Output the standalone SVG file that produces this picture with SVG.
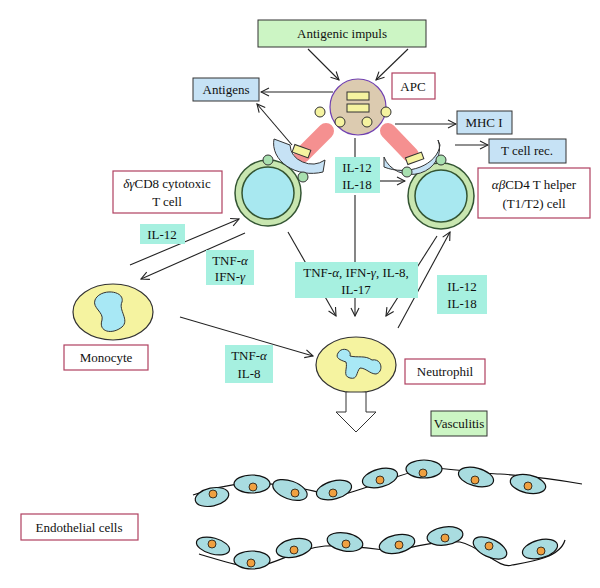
<svg xmlns="http://www.w3.org/2000/svg" width="600" height="588" viewBox="0 0 600 588">
<style>
text{font-family:"Liberation Serif",serif;font-size:13px;fill:#111;text-anchor:middle}
.lb{fill:#fff;stroke:#b04060;stroke-width:1.2}
.gb{fill:#ccf5c4;stroke:#333;stroke-width:1}
.bb{fill:#c6e2f5;stroke:#333;stroke-width:1}
.cy{fill:#a6f0e0}
.ln{stroke:#222;stroke-width:1.1;fill:none;marker-end:url(#a)}
.sm{fill:#f5f3a0;stroke:#333;stroke-width:1}
.ec{fill:#a9dce0;stroke:#111;stroke-width:1.2}
.nu{fill:#f0a040;stroke:#111;stroke-width:0.8}
.g{font-style:italic}
</style>
<defs>
<marker id="a" markerWidth="10" markerHeight="10" refX="9" refY="5" orient="auto" markerUnits="userSpaceOnUse"><path d="M1,1 L9,5 L1,9" fill="none" stroke="#222" stroke-width="1.1"/></marker>
<g id="tc"><circle r="33" fill="#c8e6b0" stroke="#335533" stroke-width="1.5"/><circle r="26" fill="#a8e8f0" stroke="#335533" stroke-width="1.5"/></g>
</defs>
<g id="connectors">
<path class="ln" d="M308,49 L339,80"/><path class="ln" d="M408,49 L376,80"/>
<path class="ln" d="M333,92 L261,92"/>
<path class="ln" d="M292,145 L257,104"/>
<path class="ln" d="M395,124 L456,124"/>
<path class="ln" d="M455,145 L488,145"/>
<path d="M355,138 L355,157" stroke="#222" stroke-width="1.1"/>
<path class="ln" d="M380,181 L405,181"/>
<path class="ln" d="M288,232 L336,316"/>
<path class="ln" d="M355,195 L355,316"/>
<path class="ln" d="M437,236 L386,316"/>
<path class="ln" d="M398,328 L450,232"/>
<path class="ln" d="M130,265 L239,219"/>
<path class="ln" d="M245,233 L141,279"/>
<path class="ln" d="M180,317 L313,356"/>
</g>
<g id="antigenic"><rect class="gb" x="258" y="20" width="168" height="27"/><text x="342" y="38">Antigenic impuls</text></g>
<g id="apc">
<path d="M302,155 L326,131 M388,131 L411,155" stroke="#f59090" stroke-width="16" stroke-linecap="round"/>
<circle cx="358" cy="107" r="28" fill="#dccbb0" stroke="#7040b0" stroke-width="1.2"/>
<rect class="sm" x="347" y="92" width="22" height="8"/><rect class="sm" x="347" y="104" width="22" height="8"/>
<circle class="sm" cx="320" cy="112" r="5"/><circle class="sm" cx="340" cy="122" r="5"/><circle class="sm" cx="367" cy="122" r="5"/><circle class="sm" cx="386" cy="112" r="5"/>
<rect class="lb" x="392" y="73" width="43" height="26"/><text x="413" y="91">APC</text>
</g>
<g id="antigens"><rect class="bb" x="193" y="78" width="66" height="23"/><text x="226" y="94">Antigens</text></g>
<g id="mhc"><rect class="bb" x="457" y="111" width="55" height="23"/><text x="484" y="127">MHC I</text></g>
<g id="tcr"><rect class="bb" x="489" y="139" width="77" height="24"/><text x="527" y="155">T cell rec.</text></g>
<g id="cd8">
<use href="#tc" x="268" y="193"/>
<path d="M274,139 L290,145 A22,20 0 0 0 325,160 L323,172 A38,30 0 0 1 274,139 Z" fill="#c6e2f5" stroke="#333" stroke-width="1"/>
<rect class="sm" x="293" y="147" width="17" height="8" transform="rotate(20 301 151)"/>
<circle cx="268" cy="160" r="5" fill="#a8e0b0" stroke="#333"/><circle cx="303" cy="177" r="5" fill="#a8e0b0" stroke="#333"/>
<rect class="lb" x="113" y="171" width="109" height="42"/><text x="167" y="188"><tspan class="g">δγ</tspan>CD8 cytotoxic</text><text x="167" y="206">T cell</text>
</g>
<g id="cd4">
<use href="#tc" x="441" y="196"/>
<path d="M384,167 A38,28 0 0 0 440,145 L438,140 A22,20 0 0 1 384,157 Z" fill="#c6e2f5" stroke="#333" stroke-width="1"/>
<rect class="sm" x="406" y="155" width="17" height="7" transform="rotate(-20 414 158)"/>
<circle cx="407" cy="172" r="5" fill="#a8e0b0" stroke="#333"/><circle cx="441" cy="160" r="5" fill="#a8e0b0" stroke="#333"/>
<rect class="lb" x="478" y="168" width="112" height="50"/><text x="534" y="189"><tspan class="g">αβ</tspan>CD4 T helper</text><text x="534" y="208">(T1/T2) cell</text>
</g>
<g id="cyto">
<rect class="cy" x="335" y="157" width="45" height="36"/><text x="357" y="172">IL-12</text><text x="357" y="189">IL-18</text>
<rect class="cy" x="140" y="224" width="45" height="20"/><text x="162" y="239">IL-12</text>
<rect class="cy" x="206" y="250" width="48" height="35"/><text x="230" y="265">TNF-<tspan class="g">α</tspan></text><text x="230" y="281">IFN-<tspan class="g">γ</tspan></text>
<rect class="cy" x="295" y="262" width="123" height="36"/><text x="356" y="277">TNF-<tspan class="g">α</tspan>, IFN-<tspan class="g">γ</tspan>, IL-8,</text><text x="356" y="294">IL-17</text>
<rect class="cy" x="437" y="275" width="50" height="39"/><text x="462" y="291">IL-12</text><text x="462" y="308">IL-18</text>
<rect class="cy" x="225" y="345" width="48" height="38"/><text x="249" y="360">TNF-<tspan class="g">α</tspan></text><text x="249" y="378">IL-8</text>
</g>
<g id="monocyte">
<ellipse cx="113" cy="312" rx="40" ry="28" fill="#f5f3a0" stroke="#333" stroke-width="1.2"/>
<path d="M95,300 C100,288 125,290 122,302 C118,310 130,320 122,327 C112,335 98,332 102,320 C104,312 92,308 95,300 Z" fill="#a8e8f5" stroke="#333"/>
<rect class="lb" x="64" y="345" width="84" height="25"/><text x="106" y="362">Monocyte</text>
</g>
<g id="neutrophil">
<ellipse cx="356" cy="365" rx="40" ry="28" fill="#f5f3a0" stroke="#333" stroke-width="1.2"/>
<path d="M338,353 C342,346 352,350 350,356 C358,358 365,355 372,360 C382,358 384,372 376,374 C370,374 366,368 360,368 C356,372 358,380 350,378 C342,376 348,368 346,362 C340,360 335,358 338,353 Z" fill="#a8e8f5" stroke="#333"/>
<rect class="lb" x="405" y="359" width="80" height="25"/><text x="445" y="376">Neutrophil</text>
</g>
<g id="vasculitis">
<path d="M346,392 L366,392 L366,412 L376,412 L356,432 L336,412 L346,412 Z" fill="#fff" stroke="#333"/>
<rect class="gb" x="431" y="411" width="56" height="25"/><text x="459" y="428">Vasculitis</text>
</g>
<g id="endothelium">
<path d="M193,495 C230,482 260,480 300,488 C320,492 330,496 345,494 C380,484 410,470 430,468 C450,468 480,474 500,474 C530,476 560,480 582,484" fill="none" stroke="#111" stroke-width="1.2"/>
<ellipse class="ec" cx="212" cy="497" rx="17" ry="9" transform="rotate(-12 212 497)"/><circle class="nu" cx="213" cy="494" r="4"/>
<ellipse class="ec" cx="252" cy="484" rx="18" ry="9"/><circle class="nu" cx="253" cy="487" r="4"/>
<ellipse class="ec" cx="290" cy="490" rx="18" ry="9" transform="rotate(20 290 490)"/><circle class="nu" cx="295" cy="493" r="4"/>
<ellipse class="ec" cx="334" cy="490" rx="18" ry="9" transform="rotate(-15 334 490)"/><circle class="nu" cx="333" cy="493" r="4"/>
<ellipse class="ec" cx="380" cy="478" rx="18" ry="9" transform="rotate(-15 380 478)"/><circle class="nu" cx="380" cy="480" r="4"/>
<ellipse class="ec" cx="424" cy="469" rx="18" ry="9"/><circle class="nu" cx="423" cy="473" r="4"/>
<ellipse class="ec" cx="476" cy="477" rx="18" ry="9" transform="rotate(15 476 477)"/><circle class="nu" cx="475" cy="480" r="4"/>
<ellipse class="ec" cx="528" cy="484" rx="18" ry="9" transform="rotate(12 528 484)"/><circle class="nu" cx="528" cy="486" r="4"/>
<path d="M199,554 C220,560 240,568 260,566 C280,562 300,548 325,546 C355,545 380,550 393,551 C420,546 440,540 460,542 C480,546 500,570 512,565 C530,562 560,558 565,540" fill="none" stroke="#111" stroke-width="1.2"/>
<ellipse class="ec" cx="213" cy="546" rx="17" ry="8" transform="rotate(15 213 546)"/><circle class="nu" cx="212" cy="544" r="4"/>
<ellipse class="ec" cx="252" cy="560" rx="18" ry="9"/><circle class="nu" cx="251" cy="563" r="4"/>
<ellipse class="ec" cx="294" cy="548" rx="18" ry="9" transform="rotate(-12 294 548)"/><circle class="nu" cx="294" cy="550" r="4"/>
<ellipse class="ec" cx="345" cy="542" rx="18" ry="9" transform="rotate(10 345 542)"/><circle class="nu" cx="346" cy="544" r="4"/>
<ellipse class="ec" cx="397" cy="544" rx="18" ry="9" transform="rotate(-12 397 544)"/><circle class="nu" cx="399" cy="545" r="4"/>
<ellipse class="ec" cx="445" cy="536" rx="18" ry="9" transform="rotate(-8 445 536)"/><circle class="nu" cx="445" cy="538" r="4"/>
<ellipse class="ec" cx="490" cy="548" rx="18" ry="9" transform="rotate(25 490 548)"/><circle class="nu" cx="489" cy="546" r="4"/>
<ellipse class="ec" cx="540" cy="549" rx="18" ry="9" transform="rotate(-15 540 549)"/><circle class="nu" cx="541" cy="551" r="4"/>
<rect class="lb" x="21" y="514" width="117" height="26"/><text x="79" y="532">Endothelial cells</text>
</g>
</svg>
